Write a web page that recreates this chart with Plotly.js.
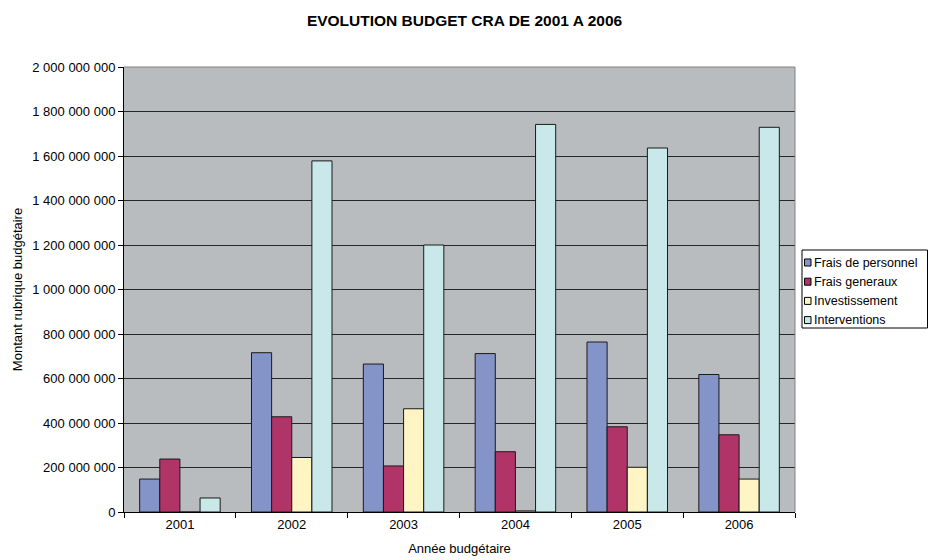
<!DOCTYPE html>
<html>
<head>
<meta charset="utf-8">
<script src="https://cdn.plot.ly/plotly-3.0.1.min.js"></script>
<style>html,body{margin:0;padding:0;background:#fff;}#chart{width:929px;height:560px;}</style>
</head>
<body>
<div id="chart"></div>
<script>
const years = ['2001', '2002', '2003', '2004', '2005', '2006'];
const fraisPersonnel = [148000000, 716000000, 665000000, 712000000, 764000000, 618000000];
const fraisGeneraux = [238000000, 428000000, 207000000, 271000000, 383000000, 347000000];
const investissement = [0, 245000000, 464000000, 5000000, 201000000, 148000000];
const interventions = [63000000, 1578000000, 1200000000, 1742000000, 1636000000, 1729000000];
const seriesNames = ['Frais de personnel', 'Frais generaux', 'Investissement', 'Interventions'];
const seriesColors = ['#8494C8', '#B03468', '#FFF4C4', '#C8E8EA'];

const allValues = [fraisPersonnel, fraisGeneraux, investissement, interventions];
const traces = allValues.map((vals, i) => ({
  type: 'bar',
  name: seriesNames[i],
  x: years,
  y: vals,
  marker: {color: seriesColors[i], line: {color: '#1a1a1a', width: 1}},
  hoverinfo: 'x+y+name',
  showlegend: false
}));

// plot area in pixels (for placing the legend box outside the plot)
const M = {l: 124, r: 134, t: 67, b: 48};
const W = 929, H = 560;
const pw = W - M.l - M.r, ph = H - M.t - M.b;
const px = x => (x - M.l) / pw;
const py = y => (H - M.b - y) / ph;

const font = 'Liberation Sans, Arial, sans-serif';
const shapes = [
  {type: 'line', xref: 'paper', yref: 'paper', x0: 0, x1: 1, y0: 1, y1: 1, line: {color: '#808080', width: 1}},
  {type: 'line', xref: 'paper', yref: 'paper', x0: 1, x1: 1, y0: 0, y1: 1, line: {color: '#808080', width: 1}},
  {type: 'rect', xref: 'paper', yref: 'paper', x0: px(802), x1: px(927.5), y0: py(250), y1: py(328), line: {color: '#000', width: 1}, fillcolor: '#fff', layer: 'above'}
];
const annotations = [];
seriesNames.forEach((name, i) => {
  const cy = 262.5 + i * 19.2;
  shapes.push({type: 'rect', xref: 'paper', yref: 'paper', x0: px(804.5), x1: px(811), y0: py(cy - 3.5), y1: py(cy + 3.5), fillcolor: seriesColors[i], line: {color: '#000', width: 1}, layer: 'above'});
  annotations.push({xref: 'paper', yref: 'paper', x: px(811.5), y: py(cy), xanchor: 'left', yanchor: 'middle', text: name, showarrow: false, font: {family: font, size: 12.5, color: '#000'}});
});

const layout = {
  width: W, height: H,
  margin: {l: M.l, r: M.r, t: M.t, b: M.b, autoexpand: false},
  paper_bgcolor: '#ffffff',
  plot_bgcolor: '#B9BCBF',
  font: {family: font, size: 12, color: '#000'},
  separators: ', ',
  title: {text: '<b>EVOLUTION BUDGET CRA DE 2001 A 2006</b>', font: {family: font, size: 15.5, color: '#000'}, x: 0.5, xanchor: 'center', y: 0.963, yanchor: 'middle'},
  barmode: 'group',
  bargap: 0.28,
  bargroupgap: 0,
  xaxis: {
    type: 'category',
    tickson: 'boundaries',
    ticks: 'outside', ticklen: 5, tickcolor: '#000',
    showline: true, linecolor: '#000', linewidth: 1,
    showgrid: false,
    tickfont: {size: 13},
    title: {text: 'Année budgétaire', font: {size: 13}, standoff: 13}
  },
  yaxis: {
    range: [0, 2000000000], dtick: 200000000, tick0: 0,
    tickformat: ',d',
    ticks: 'outside', ticklen: 5, tickcolor: '#000',
    showline: true, linecolor: '#000', linewidth: 1,
    showgrid: true, gridcolor: '#262626', gridwidth: 1,
    zeroline: false,
    tickfont: {size: 13},
    title: {text: 'Montant rubrique budgétaire', font: {size: 13}, standoff: 6}
  },
  shapes: shapes,
  annotations: annotations,
  showlegend: false
};

Plotly.newPlot('chart', traces, layout, {displayModeBar: false, staticPlot: true});
</script>
</body>
</html>
